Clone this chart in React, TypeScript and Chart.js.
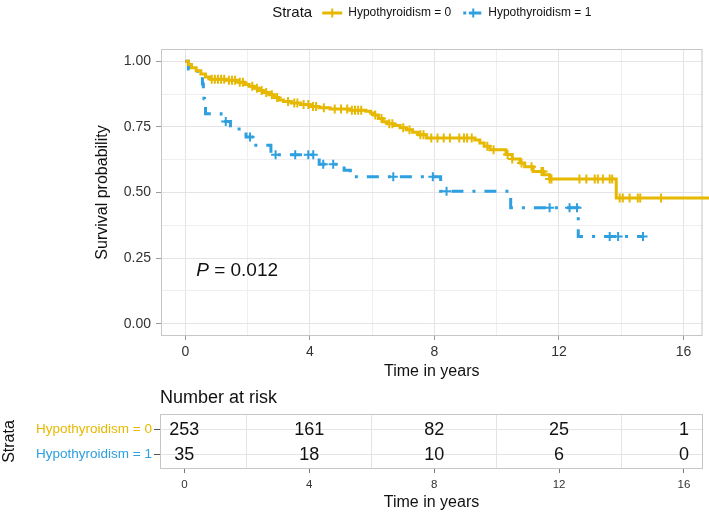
import React, { useEffect, useRef } from 'react';
import { Chart, registerables } from 'chart.js';

Chart.register(...registerables);

const FONT = "'Liberation Sans', Arial, Helvetica, sans-serif";
const YELLOW = '#E7B800';
const BLUE = '#2E9FDF';
const GRID_MAJOR = '#e4e4e8';
const GRID_MINOR = '#efeff2';
const BORDER = '#c6c6ca';

// ---- data ----
const strataNames = ['Hypothyroidism = 0', 'Hypothyroidism = 1'];

const yellowTimes = [0, 0.1, 0.2, 0.35, 0.5, 0.65, 0.8, 1.3, 1.7, 1.9, 2.05, 2.2, 2.35, 2.5, 2.7, 2.85, 3.0, 3.15, 3.4, 3.7, 4.0, 4.3, 4.65, 5.3, 5.8, 5.95, 6.05, 6.2, 6.35, 6.5, 6.7, 6.9, 7.1, 7.3, 7.48, 7.75, 9.3, 9.46, 9.6, 9.78, 10.3, 10.5, 10.75, 10.9, 11.17, 11.5, 11.7, 13.84, 17.0];
const yellowSurv = [1.0, 0.988, 0.976, 0.964, 0.952, 0.94, 0.932, 0.928, 0.92, 0.912, 0.905, 0.897, 0.889, 0.881, 0.873, 0.862, 0.853, 0.847, 0.841, 0.835, 0.828, 0.823, 0.818, 0.814, 0.81, 0.803, 0.795, 0.782, 0.77, 0.762, 0.755, 0.747, 0.739, 0.73, 0.72, 0.708, 0.7, 0.689, 0.676, 0.663, 0.645, 0.628, 0.612, 0.598, 0.58, 0.568, 0.551, 0.479, 0.479];
const yellowCensor = [0.85, 0.95, 1.05, 1.15, 1.25, 1.4, 1.5, 1.6, 1.75, 1.85, 2.15, 2.3, 2.45, 2.6, 2.78, 2.95, 3.3, 3.5, 3.6, 3.8, 3.95, 4.1, 4.2, 4.45, 4.8, 5.0, 5.2, 5.35, 5.45, 5.55, 5.65, 6.1, 6.3, 6.55, 6.65, 7.0, 7.2, 7.55, 7.65, 7.9, 8.1, 8.3, 8.5, 8.8, 8.95, 9.05, 9.2, 9.7, 9.9, 10.35, 10.5, 10.8, 11.12, 11.44, 11.49, 11.7, 11.76, 12.66, 12.88, 13.15, 13.25, 13.41, 13.63, 13.71, 13.95, 14.05, 14.27, 14.53, 14.61, 15.28];

const blueTimes = [0, 0.1, 0.4, 0.55, 0.58, 0.6, 0.62, 0.65, 1.15, 1.45, 1.95, 2.2, 2.75, 4.3, 5.1, 5.3, 8.2, 10.45, 12.62, 14.7];
const blueSurv = [1.0, 0.971, 0.943, 0.914, 0.886, 0.857, 0.829, 0.8, 0.771, 0.742, 0.712, 0.68, 0.644, 0.608, 0.585, 0.56, 0.505, 0.442, 0.332, 0.332];
const blueCensor = [1.3, 2.08, 2.9, 3.53, 3.95, 4.11, 4.43, 4.75, 6.68, 7.95, 8.39, 11.7, 12.34, 12.58, 13.63, 13.9, 14.7];

const xMajorTicks = [0, 4, 8, 12, 16];
const xGridValues = [0, 2, 4, 6, 8, 10, 12, 14, 16];
const yMajorTicks = [0, 0.25, 0.5, 0.75, 1];
const yGridValues = [0, 0.125, 0.25, 0.375, 0.5, 0.625, 0.75, 0.875, 1];

const riskTimes = [0, 4, 8, 12, 16];
const riskHypo0 = [253, 161, 82, 25, 1];
const riskHypo1 = [35, 18, 10, 6, 0];

const pValueText = '0.012';

// ---- axis ranges ----
const X_MIN = -0.78;
const X_MAX = 16.61;
const Y_MIN = -0.047;
const Y_MAX = 1.047;
const P_X = 0.35;
const P_Y = 0.2;

function survAt(times: number[], surv: number[], t: number) {
  let s = surv[0];
  for (let i = 0; i < times.length; i++) {
    if (times[i] <= t) s = surv[i];
  }
  return s;
}

const DASH = [12, 9, 3, 9];

export default function App() {
  const mainRef = useRef<HTMLCanvasElement>(null);
  const tableRef = useRef<HTMLCanvasElement>(null);

  useEffect(() => {
    Chart.defaults.font.family = FONT;

    const panelPlugin = {
      id: 'panel',
      beforeDatasetsDraw(chart: any) {
        const { ctx, chartArea: a } = chart;
        ctx.save();
        ctx.strokeStyle = BORDER;
        ctx.lineWidth = 1;
        ctx.strokeRect(a.left + 0.5, a.top + 0.5, a.right - a.left - 1, a.bottom - a.top - 1);
        ctx.restore();
      },
    };

    const mainDecor = {
      id: 'mainDecor',
      afterDraw(chart: any) {
        const { ctx, chartArea: a, scales } = chart;
        ctx.save();
        // p-value
        const px = scales.x.getPixelForValue(P_X);
        const py = scales.y.getPixelForValue(P_Y);
        ctx.fillStyle = '#111';
        ctx.textBaseline = 'middle';
        ctx.textAlign = 'left';
        ctx.font = `italic 19px ${FONT}`;
        ctx.fillText('P', px, py);
        const wP = ctx.measureText('P').width;
        ctx.font = `19px ${FONT}`;
        ctx.fillText(' = ' + pValueText, px + wP, py);

        // legend
        const cy = 13;
        ctx.font = `15px ${FONT}`;
        const wT = ctx.measureText('Strata').width;
        ctx.font = `12px ${FONT}`;
        const w0 = ctx.measureText(strataNames[0]).width;
        const w1 = ctx.measureText(strataNames[1]).width;
        const total = wT + 10 + 20 + 6 + w0 + 12 + 20 + 5 + w1;
        let x = (a.left + a.right) / 2 - total / 2;
        ctx.font = `15px ${FONT}`;
        ctx.fillStyle = '#111';
        ctx.fillText('Strata', x, cy);
        x += wT + 10;
        const drawKey = (x0: number, color: string, dash: number[]) => {
          ctx.save();
          ctx.strokeStyle = color;
          ctx.lineWidth = 3;
          ctx.lineCap = 'butt';
          ctx.setLineDash(dash);
          ctx.beginPath();
          ctx.moveTo(x0, cy);
          ctx.lineTo(x0 + 20, cy);
          ctx.stroke();
          ctx.setLineDash([]);
          ctx.lineWidth = 2;
          ctx.beginPath();
          ctx.moveTo(x0 + 10, cy - 4.5);
          ctx.lineTo(x0 + 10, cy + 4.5);
          ctx.moveTo(x0 + 5.5, cy);
          ctx.lineTo(x0 + 14.5, cy);
          ctx.stroke();
          ctx.restore();
        };
        drawKey(x, YELLOW, []);
        x += 20 + 6;
        ctx.font = `12px ${FONT}`;
        ctx.fillStyle = '#111';
        ctx.fillText(strataNames[0], x, cy);
        x += w0 + 12;
        drawKey(x, BLUE, [3, 3, 12, 3]);
        x += 20 + 5;
        ctx.font = `12px ${FONT}`;
        ctx.fillStyle = '#111';
        ctx.fillText(strataNames[1], x, cy);
        ctx.restore();
      },
    };

    const main = new Chart(mainRef.current!, {
      type: 'line',
      data: {
        datasets: [
          {
            label: strataNames[0],
            data: yellowTimes.map((t, i) => ({ x: t, y: yellowSurv[i] })),
            borderColor: YELLOW,
            borderWidth: 3,
            stepped: 'before',
            pointRadius: 0,
            fill: false,
            borderCapStyle: 'butt',
            clip: { left: 2, top: 4, right: 7, bottom: 2 },
          } as any,
          {
            label: strataNames[1],
            data: blueTimes.map((t, i) => ({ x: t, y: blueSurv[i] })),
            borderColor: BLUE,
            borderWidth: 3,
            borderDash: DASH,
            borderCapStyle: 'butt',
            stepped: 'before',
            pointRadius: 0,
            fill: false,
          } as any,
          {
            label: 'censor0',
            data: yellowCensor.map((t) => ({ x: t, y: survAt(yellowTimes, yellowSurv, t) })),
            showLine: false,
            pointStyle: 'cross',
            pointRadius: 4.5,
            pointBorderWidth: 2,
            borderColor: YELLOW,
            pointBorderColor: YELLOW,
          } as any,
          {
            label: 'censor1',
            data: blueCensor.map((t) => ({ x: t, y: survAt(blueTimes, blueSurv, t) })),
            showLine: false,
            pointStyle: 'cross',
            pointRadius: 4.5,
            pointBorderWidth: 2,
            borderColor: BLUE,
            pointBorderColor: BLUE,
          } as any,
        ],
      },
      options: {
        responsive: false,
        animation: false,
        layout: { padding: { top: 49, right: 6, left: 0, bottom: 0 } },
        plugins: { legend: { display: false }, tooltip: { enabled: false } },
        scales: {
          x: {
            type: 'linear',
            min: X_MIN,
            max: X_MAX,
            afterFit: (s: any) => { s.height = 54; },
            afterBuildTicks: (s: any) => { s.ticks = xGridValues.map((v) => ({ value: v })); },
            ticks: {
              autoSkip: false,
              maxRotation: 0,
              padding: 4,
              color: '#333',
              font: { size: 14 },
              callback: (v: any) => (xMajorTicks.includes(v) ? String(v) : ''),
            },
            grid: {
              color: (c: any) => (xMajorTicks.includes(c.tick?.value) ? GRID_MAJOR : GRID_MINOR),
              lineWidth: 1,
              tickLength: 4,
              tickColor: (c: any) => (xMajorTicks.includes(c.tick?.value) ? '#999' : 'rgba(0,0,0,0)'),
            },
            border: { display: false },
            title: { display: true, text: 'Time in years', color: '#111', font: { size: 16 }, padding: { top: 0, bottom: 9 } },
          },
          y: {
            type: 'linear',
            min: Y_MIN,
            max: Y_MAX,
            afterFit: (s: any) => { s.width = 161; },
            afterBuildTicks: (s: any) => { s.ticks = yGridValues.map((v) => ({ value: v })); },
            ticks: {
              autoSkip: false,
              padding: 5,
              color: '#333',
              font: { size: 14 },
              callback: (v: any) => (yMajorTicks.includes(v) ? Number(v).toFixed(2) : ''),
            },
            grid: {
              color: (c: any) => (yMajorTicks.includes(c.tick?.value) ? GRID_MAJOR : GRID_MINOR),
              lineWidth: 1,
              tickLength: 5,
              tickColor: (c: any) => (yMajorTicks.includes(c.tick?.value) ? '#999' : 'rgba(0,0,0,0)'),
            },
            border: { display: false },
            title: { display: true, text: 'Survival probability', color: '#111', font: { size: 16 }, padding: { top: 93, bottom: 0 } },
          },
        },
      } as any,
      plugins: [panelPlugin, mainDecor],
    });

    const tableDecor = {
      id: 'tableDecor',
      afterDraw(chart: any) {
        const { ctx, chartArea: a, scales } = chart;
        ctx.save();
        ctx.fillStyle = '#111';
        ctx.textBaseline = 'middle';
        ctx.textAlign = 'left';
        ctx.font = `18px ${FONT}`;
        ctx.fillText('Number at risk', a.left, 13);
        ctx.textAlign = 'center';
        const rows: [number, number[]][] = [[1, riskHypo0], [0, riskHypo1]];
        rows.forEach(([rowVal, vals]) => {
          const y = scales.y.getPixelForValue(rowVal);
          vals.forEach((n, i) => {
            ctx.fillText(String(n), scales.x.getPixelForValue(riskTimes[i]), y + 1);
          });
        });
        ctx.restore();
      },
    };

    const table = new Chart(tableRef.current!, {
      type: 'scatter',
      data: { datasets: [] },
      options: {
        responsive: false,
        animation: false,
        layout: { padding: { top: 29, right: 6, left: 0, bottom: 0 } },
        plugins: { legend: { display: false }, tooltip: { enabled: false } },
        scales: {
          x: {
            type: 'linear',
            min: X_MIN,
            max: X_MAX,
            afterFit: (s: any) => { s.height = 44; },
            afterBuildTicks: (s: any) => { s.ticks = xGridValues.map((v) => ({ value: v })); },
            ticks: {
              autoSkip: false,
              maxRotation: 0,
              padding: 5,
              color: '#333',
              font: { size: 11.5 },
              callback: (v: any) => (xMajorTicks.includes(v) ? String(v) : ''),
            },
            grid: {
              color: (c: any) => (xMajorTicks.includes(c.tick?.value) ? 'rgba(0,0,0,0)' : GRID_MAJOR),
              lineWidth: 1,
              tickLength: 4,
              tickColor: (c: any) => (xMajorTicks.includes(c.tick?.value) ? '#777' : 'rgba(0,0,0,0)'),
            },
            border: { display: false },
            title: { display: true, text: 'Time in years', color: '#111', font: { size: 16 }, padding: { top: 0, bottom: 1 } },
          },
          y: {
            type: 'linear',
            min: -0.6,
            max: 1.6,
            afterFit: (s: any) => { s.width = 160; },
            afterBuildTicks: (s: any) => { s.ticks = [0, 1].map((v) => ({ value: v })); },
            ticks: {
              autoSkip: false,
              padding: 2,
              color: (c: any) => (c.tick?.value === 1 ? YELLOW : BLUE),
              font: { size: 13.5 },
              callback: (v: any) => (v === 1 ? strataNames[0] : strataNames[1]),
            },
            grid: {
              color: GRID_MAJOR,
              lineWidth: 1,
              tickLength: 6,
              tickColor: '#555',
            },
            border: { display: false },
            title: { display: true, text: 'Strata', color: '#111', font: { size: 16 }, padding: { top: 0, bottom: 0 } },
          },
        },
      } as any,
      plugins: [panelPlugin, tableDecor],
    });

    return () => {
      main.destroy();
      table.destroy();
    };
  }, []);

  return (
    <div style={{ position: 'absolute', left: 0, top: 0, width: 709, height: 513, background: '#fff', overflow: 'hidden' }}>
      <div style={{ position: 'absolute', left: 0, top: 0 }}>
        <canvas ref={mainRef} width={709} height={390} style={{ display: 'block' }} />
      </div>
      <div style={{ position: 'absolute', left: 0, top: 385 }}>
        <canvas ref={tableRef} width={709} height={128} style={{ display: 'block' }} />
      </div>
    </div>
  );
}
